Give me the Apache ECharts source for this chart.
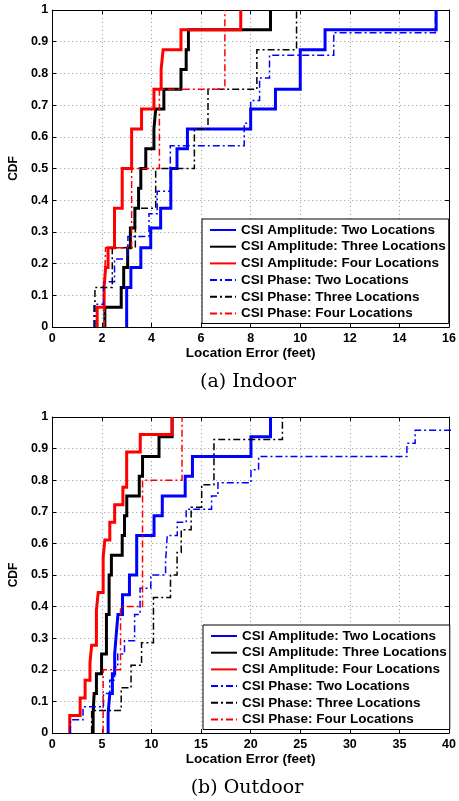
<!DOCTYPE html>
<html>
<head>
<meta charset="utf-8">
<script src="https://cdn.jsdelivr.net/npm/echarts@6/dist/echarts.min.js"></script>
<style>
  html, body { margin: 0; padding: 0; background: #fff; }
  #chart { width: 459px; height: 801px; }
</style>
</head>
<body>
<div id="chart"></div>
<script>
// legend names
var names = [
  "CSI Amplitude: Two Locations",
  "CSI Amplitude: Three Locations",
  "CSI Amplitude: Four Locations",
  "CSI Phase: Two Locations",
  "CSI Phase: Three Locations",
  "CSI Phase: Four Locations"
];

// (a) Indoor - location error (feet) where the CDF steps, and CDF level after the step
var ampTwoIndoorX = [3.0, 3.17, 3.57, 3.97, 4.37, 4.78, 5.03, 5.45, 8.0, 9.0, 10.0, 11.0, 15.48];
var ampTwoIndoorY = [0.125, 0.1875, 0.25, 0.3125, 0.375, 0.5, 0.5625, 0.625, 0.6875, 0.75, 0.875, 0.9375, 1];
var ampThreeIndoorX = [2.12, 2.78, 2.88, 3.04, 3.15, 3.33, 3.48, 3.57, 3.77, 4.1, 4.17, 4.5, 5.19, 5.4, 5.49, 8.8];
var ampThreeIndoorY = [0.0625, 0.125, 0.1875, 0.25, 0.3125, 0.375, 0.4375, 0.5, 0.5625, 0.625, 0.6875, 0.75, 0.8125, 0.875, 0.9375, 1];
var ampFourIndoorX = [1.81, 2.09, 2.15, 2.25, 2.51, 2.82, 3.2, 3.6, 4.1, 4.39, 4.47, 5.19, 7.6];
var ampFourIndoorY = [0.0625, 0.125, 0.1875, 0.25, 0.375, 0.5, 0.625, 0.6875, 0.75, 0.8125, 0.875, 0.9375, 1];
var phaseTwoIndoorX = [1.68, 2.07, 2.51, 3.05, 3.9, 4.23, 4.76, 7.74, 8.0, 8.36, 8.76, 11.35, 15.45];
var phaseTwoIndoorY = [0.0714, 0.1429, 0.2143, 0.2857, 0.3571, 0.4286, 0.5714, 0.6429, 0.7143, 0.7857, 0.8571, 0.9286, 1];
var phaseThreeIndoorX = [1.72, 2.42, 3.35, 4.17, 5.73, 6.28, 8.25, 9.85];
var phaseThreeIndoorY = [0.125, 0.25, 0.375, 0.5, 0.625, 0.75, 0.875, 1];
var phaseFourIndoorX = [2.1, 2.15, 3.2, 4.32, 6.96];
var phaseFourIndoorY = [0.125, 0.25, 0.5, 0.75, 1];

// (b) Outdoor
var ampTwoOutdoorX = [5.63, 5.8, 6.06, 6.29, 6.45, 6.62, 7.08, 7.78, 8.51, 10.26, 11.09, 13.4, 14.13, 20.03, 22.0];
var ampTwoOutdoorY = [0.0625, 0.125, 0.1875, 0.25, 0.3125, 0.375, 0.4375, 0.5, 0.625, 0.6875, 0.75, 0.8125, 0.875, 0.9375, 1];
var ampThreeOutdoorX = [4.12, 4.22, 4.45, 4.97, 5.46, 5.73, 5.96, 7.05, 7.28, 7.51, 8.77, 9.1, 10.76, 12.08];
var ampThreeOutdoorY = [0.0625, 0.125, 0.1875, 0.25, 0.375, 0.5, 0.5625, 0.625, 0.6875, 0.75, 0.8125, 0.875, 0.9375, 1];
var ampFourOutdoorX = [1.76, 2.81, 3.31, 3.8, 3.97, 4.45, 4.63, 5.13, 5.3, 5.8, 6.29, 7.12, 7.5, 8.87, 12.08];
var ampFourOutdoorY = [0.0556, 0.1111, 0.1667, 0.2222, 0.2778, 0.3889, 0.4444, 0.5556, 0.6111, 0.6667, 0.7222, 0.7778, 0.8889, 0.9444, 1];
var phaseTwoOutdoorX = [1.82, 3.1, 5.16, 5.79, 6.29, 6.6, 7.28, 8.3, 8.85, 9.93, 11.42, 11.59, 12.6, 13.5, 16.06, 16.7, 20.03, 20.8, 35.75, 36.58, 42];
var phaseTwoOutdoorY = [0.0417, 0.0833, 0.125, 0.1667, 0.2083, 0.25, 0.2917, 0.375, 0.4583, 0.5, 0.5417, 0.625, 0.6667, 0.7083, 0.75, 0.7917, 0.8333, 0.875, 0.9167, 0.9583, 1];
var phaseThreeOutdoorX = [3.97, 6.95, 7.94, 9.0, 10.2, 11.92, 12.58, 13.0, 14.0, 15.06, 16.3, 23.2];
var phaseThreeOutdoorY = [0.0714, 0.1429, 0.2143, 0.2857, 0.4286, 0.5, 0.5714, 0.6429, 0.7143, 0.7857, 0.9286, 1];
var phaseFourOutdoorX = [5.13, 6.88, 9.1, 13.08];
var phaseFourOutdoorY = [0.2, 0.4, 0.8, 1];

var font = "Liberation Sans";
var dashDot = [7, 3, 2, 3];

// staircase starts at 0 on the first sample
function cdfPoints(xs, ys) {
  var pts = [[xs[0], 0]];
  for (var i = 0; i < xs.length; i++) {
    pts.push([xs[i], ys[i]]);
  }
  return pts;
}

function makeSeries(name, xs, ys, color, dashed, idx) {
  return {
    name: name,
    type: "line",
    step: "end",
    xAxisIndex: idx,
    yAxisIndex: idx,
    symbol: "none",
    data: cdfPoints(xs, ys),
    itemStyle: { color: color },
    lineStyle: {
      color: color,
      width: dashed ? 1.5 : 3,
      type: dashed ? dashDot : "solid",
      join: "miter",
      cap: "butt"
    }
  };
}

function xAxisFor(grid, max, interval, top) {
  return {
    type: "value",
    gridIndex: grid,
    position: top ? "top" : "bottom",
    min: 0,
    max: max,
    interval: interval,
    name: top ? "" : "Location Error (feet)",
    nameLocation: "middle",
    nameGap: 19,
    nameTextStyle: { fontFamily: font, fontWeight: "bold", fontSize: 13.5, color: "#000" },
    axisLine: { show: true, onZero: false, lineStyle: { color: "#000", width: 1 } },
    axisTick: { show: true, inside: true, length: 4, lineStyle: { color: "#000" } },
    axisLabel: {
      show: !top,
      margin: 5,
      fontFamily: font,
      fontWeight: "bold",
      fontSize: 12.5,
      color: "#000",
      showMinLabel: true,
      showMaxLabel: true
    },
    splitLine: { show: !top, lineStyle: { color: "#999", width: 1, type: [1, 3] } }
  };
}

function yAxisFor(grid, right) {
  return {
    type: "value",
    gridIndex: grid,
    position: right ? "right" : "left",
    min: 0,
    max: 1,
    interval: 0.1,
    name: right ? "" : "CDF",
    nameLocation: "middle",
    nameGap: 28,
    nameRotate: 90,
    nameTextStyle: { fontFamily: font, fontWeight: "bold", fontSize: 12, color: "#000" },
    axisLine: { show: true, onZero: false, lineStyle: { color: "#000", width: 1 } },
    axisTick: { show: true, inside: true, length: 4, lineStyle: { color: "#000" } },
    axisLabel: {
      show: !right,
      margin: 4,
      fontFamily: font,
      fontWeight: "bold",
      fontSize: 12.5,
      color: "#000",
      formatter: function (v) {
        if (v === 0) return "0";
        if (v === 1) return "1";
        return v.toFixed(1);
      }
    },
    splitLine: { show: !right, lineStyle: { color: "#999", width: 1, type: [1, 3] } }
  };
}

function legendFor(left, top) {
  return {
    orient: "vertical",
    left: left,
    top: top,
    backgroundColor: "#fff",
    borderColor: "#000",
    borderWidth: 1,
    borderRadius: 0,
    padding: [4, 3, 3, 7],
    itemWidth: 26,
    itemHeight: 12,
    itemGap: 2.7,
    selectedMode: false,
    // hide the marker dot, keep only the line sample
    itemStyle: { opacity: 0 },
    textStyle: { fontFamily: font, fontWeight: "bold", fontSize: 13.5, color: "#000", lineHeight: 14 },
    data: names
  };
}

var chart = echarts.init(document.getElementById("chart"));

chart.setOption({
  animation: false,
  backgroundColor: "#fff",
  grid: [
    { left: 50, top: 10, width: 402, height: 317 },
    { left: 50, top: 417, width: 402, height: 316 }
  ],
  xAxis: [
    xAxisFor(0, 16, 2, false),
    xAxisFor(1, 40, 5, false),
    xAxisFor(0, 16, 2, true),
    xAxisFor(1, 40, 5, true)
  ],
  yAxis: [
    yAxisFor(0, false),
    yAxisFor(1, false),
    yAxisFor(0, true),
    yAxisFor(1, true)
  ],
  legend: [legendFor(202, 219), legendFor(203, 625)],
  graphic: [
    {
      type: "text",
      x: 248,
      y: 382,
      style: { text: "(a) Indoor", font: '19px "DejaVu Serif"', fill: "#000", align: "center", verticalAlign: "middle" }
    },
    {
      type: "text",
      x: 247,
      y: 788,
      style: { text: "(b) Outdoor", font: '19px "DejaVu Serif"', fill: "#000", align: "center", verticalAlign: "middle" }
    }
  ],
  series: [
    makeSeries(names[0], ampTwoIndoorX, ampTwoIndoorY, "#0000ff", false, 0),
    makeSeries(names[1], ampThreeIndoorX, ampThreeIndoorY, "#000000", false, 0),
    makeSeries(names[2], ampFourIndoorX, ampFourIndoorY, "#ff0000", false, 0),
    makeSeries(names[3], phaseTwoIndoorX, phaseTwoIndoorY, "#0000ff", true, 0),
    makeSeries(names[4], phaseThreeIndoorX, phaseThreeIndoorY, "#000000", true, 0),
    makeSeries(names[5], phaseFourIndoorX, phaseFourIndoorY, "#ff0000", true, 0),

    makeSeries(names[0], ampTwoOutdoorX, ampTwoOutdoorY, "#0000ff", false, 1),
    makeSeries(names[1], ampThreeOutdoorX, ampThreeOutdoorY, "#000000", false, 1),
    makeSeries(names[2], ampFourOutdoorX, ampFourOutdoorY, "#ff0000", false, 1),
    makeSeries(names[3], phaseTwoOutdoorX, phaseTwoOutdoorY, "#0000ff", true, 1),
    makeSeries(names[4], phaseThreeOutdoorX, phaseThreeOutdoorY, "#000000", true, 1),
    makeSeries(names[5], phaseFourOutdoorX, phaseFourOutdoorY, "#ff0000", true, 1)
  ]
});
</script>
</body>
</html>
